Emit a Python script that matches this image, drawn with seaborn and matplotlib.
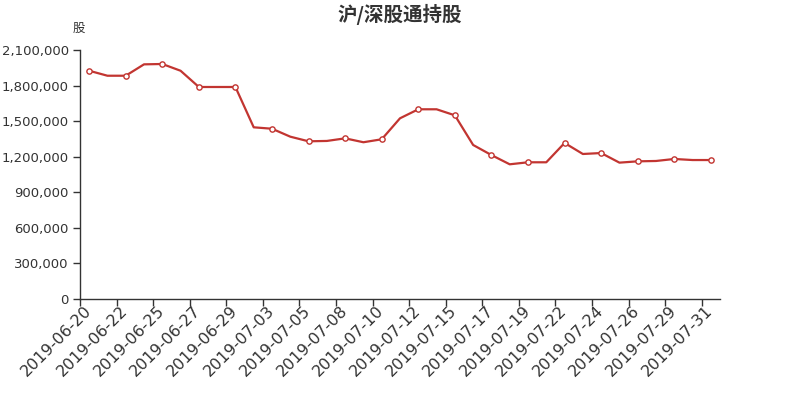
import matplotlib
matplotlib.use('Agg')
import matplotlib.pyplot as plt
import matplotlib.ticker as mticker
import seaborn as sns
import pandas as pd

sns.set_theme(style="ticks")
plt.rcParams['font.family'] = ['DejaVu Sans', 'Noto Sans CJK SC']

# data
dates = [
    "2019-06-20", "2019-06-21", "2019-06-22", "2019-06-24", "2019-06-25",
    "2019-06-26", "2019-06-27", "2019-06-28", "2019-06-29", "2019-07-02",
    "2019-07-03", "2019-07-04", "2019-07-05", "2019-07-06", "2019-07-08",
    "2019-07-09", "2019-07-10", "2019-07-11", "2019-07-12", "2019-07-13",
    "2019-07-15", "2019-07-16", "2019-07-17", "2019-07-18", "2019-07-19",
    "2019-07-20", "2019-07-22", "2019-07-23", "2019-07-24", "2019-07-25",
    "2019-07-26", "2019-07-27", "2019-07-29", "2019-07-30", "2019-07-31",
]
holdings = [
    1925000, 1883000, 1883000, 1979000, 1982000,
    1925000, 1788000, 1788000, 1788000, 1448000,
    1436000, 1369000, 1330000, 1333000, 1355000,
    1322000, 1347000, 1524000, 1600000, 1600000,
    1549000, 1299000, 1214000, 1136000, 1153000,
    1153000, 1316000, 1223000, 1231000, 1150000,
    1161000, 1164000, 1181000, 1172000, 1172000,
]
y_ticks = [0, 300000, 600000, 900000, 1200000, 1500000, 1800000, 2100000]

df = pd.DataFrame({"date": dates, "holding": holdings})
df["pos"] = range(len(df))

line_color = "#c23531"
text_color = "#333333"

fig = plt.figure(figsize=(8, 4), dpi=100)
ax = fig.add_axes([0.1, 0.2525, 0.8, 0.6225])

sns.lineplot(data=df, x="pos", y="holding", ax=ax, color=line_color,
             linewidth=1.6, marker="o", markevery=2, markersize=3.8,
             markerfacecolor="white", markeredgecolor=line_color,
             markeredgewidth=1.0)

n = len(df)
ax.set_xlim(-0.5, n - 0.5)
ax.set_ylim(0, 2100000)
ax.set_yticks(y_ticks)
ax.yaxis.set_major_formatter(mticker.FuncFormatter(lambda v, p: f"{int(v):,}"))

# labels near the points (nudged left a little), tick marks on band edges
label_pos = list(range(0, n, 2))
ax.set_xticks([i - 0.3 for i in label_pos])
ax.set_xticklabels([dates[i] for i in label_pos], rotation=45, ha="right",
                   va="top", rotation_mode="anchor", fontsize=11.5, color=text_color)
ax.set_xticks([i - 0.5 for i in label_pos], minor=True)
ax.tick_params(axis="x", which="major", length=0, pad=3)
ax.tick_params(axis="x", which="minor", length=5, width=1, color=text_color)
ax.tick_params(axis="y", length=5, width=1, color=text_color, labelsize=9.5,
               labelcolor=text_color, pad=3)

for side in ["left", "bottom"]:
    ax.spines[side].set_color(text_color)
    ax.spines[side].set_linewidth(1)
sns.despine(ax=ax)
ax.set_xlabel("")
ax.set_ylabel("")

fig.text(0.5, 0.965, "沪/深股通持股", ha="center", va="center", fontsize=14,
         fontweight="bold", color=text_color, family=["Noto Sans CJK SC"])
fig.text(0.099, 0.928, "股", ha="center", va="center", fontsize=9,
         color=text_color, family=["Noto Sans CJK SC"])

fig.savefig("out.png", dpi=100)
